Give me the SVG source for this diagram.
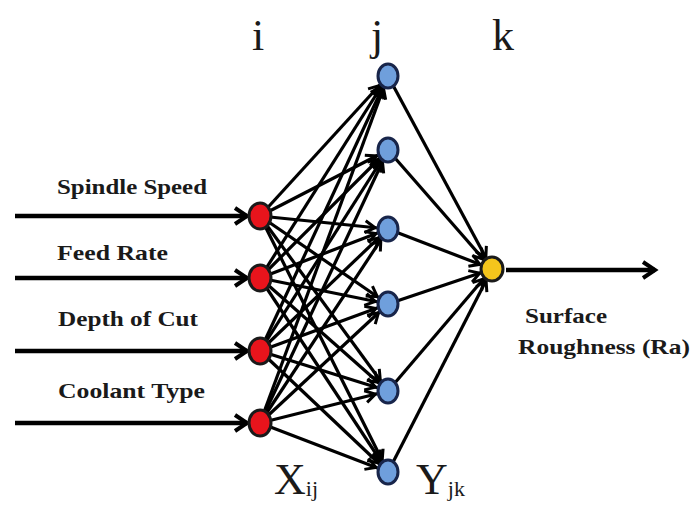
<svg xmlns="http://www.w3.org/2000/svg" width="691" height="507" viewBox="0 0 691 507">
<style>
.lbl{font-family:"Liberation Serif","Times New Roman",serif;font-weight:bold;font-size:22px;fill:#1a1a1a}
.idx{font-family:"Liberation Serif","Times New Roman",serif;font-size:44px;fill:#1a1a1a}
.big{font-family:"Liberation Serif","Times New Roman",serif;font-size:44px;fill:#1a1a1a}
.sub{font-size:22px}
.c{stroke:#000;stroke-width:3.2;fill:none;marker-end:url(#ah)}
.io{stroke:#000;stroke-width:4.5;fill:none;marker-end:url(#ah2)}
.in{fill:#e8141c;stroke:#1a1a1a;stroke-width:3}
.hid{fill:#6f9fdc;stroke:#18254a;stroke-width:3}
.out{fill:#f4c51c;stroke:#1a1a1a;stroke-width:3}
</style>
<defs>
<marker id="ah" markerUnits="userSpaceOnUse" markerWidth="30" markerHeight="20" viewBox="0 -8 30 16" refX="23" refY="0" orient="auto" overflow="visible">
<path d="M0,-6 L10,0 L0,6" fill="none" stroke="#000" stroke-width="3"/>
</marker>
<marker id="ah2" markerUnits="userSpaceOnUse" markerWidth="20" markerHeight="20" viewBox="0 -10 20 20" refX="12" refY="0" orient="auto" overflow="visible">
<path d="M0,-8 L12,0 L0,8" fill="none" stroke="#000" stroke-width="4"/>
</marker>
</defs>
<rect width="691" height="507" fill="#fff"/>
<g id="connectors">
<line class="io" x1="15" y1="216" x2="247" y2="216"/>
<line class="io" x1="15" y1="278" x2="247" y2="278"/>
<line class="io" x1="15" y1="351" x2="247" y2="351"/>
<line class="io" x1="15" y1="423" x2="247" y2="423"/>
<line class="io" x1="506" y1="270" x2="655" y2="270"/>
<line class="c" x1="260" y1="216" x2="388" y2="76"/>
<line class="c" x1="260" y1="216" x2="388" y2="150"/>
<line class="c" x1="260" y1="216" x2="388" y2="229"/>
<line class="c" x1="260" y1="216" x2="388" y2="304"/>
<line class="c" x1="260" y1="216" x2="388" y2="391"/>
<line class="c" x1="260" y1="216" x2="388" y2="472"/>
<line class="c" x1="260" y1="278" x2="388" y2="76"/>
<line class="c" x1="260" y1="278" x2="388" y2="150"/>
<line class="c" x1="260" y1="278" x2="388" y2="229"/>
<line class="c" x1="260" y1="278" x2="388" y2="304"/>
<line class="c" x1="260" y1="278" x2="388" y2="391"/>
<line class="c" x1="260" y1="278" x2="388" y2="472"/>
<line class="c" x1="260" y1="351" x2="388" y2="76"/>
<line class="c" x1="260" y1="351" x2="388" y2="150"/>
<line class="c" x1="260" y1="351" x2="388" y2="229"/>
<line class="c" x1="260" y1="351" x2="388" y2="304"/>
<line class="c" x1="260" y1="351" x2="388" y2="391"/>
<line class="c" x1="260" y1="351" x2="388" y2="472"/>
<line class="c" x1="260" y1="423" x2="388" y2="76"/>
<line class="c" x1="260" y1="423" x2="388" y2="150"/>
<line class="c" x1="260" y1="423" x2="388" y2="229"/>
<line class="c" x1="260" y1="423" x2="388" y2="304"/>
<line class="c" x1="260" y1="423" x2="388" y2="391"/>
<line class="c" x1="260" y1="423" x2="388" y2="472"/>
<line class="c" x1="388" y1="76" x2="492" y2="269"/>
<line class="c" x1="388" y1="150" x2="492" y2="269"/>
<line class="c" x1="388" y1="229" x2="492" y2="269"/>
<line class="c" x1="388" y1="304" x2="492" y2="269"/>
<line class="c" x1="388" y1="391" x2="492" y2="269"/>
<line class="c" x1="388" y1="472" x2="492" y2="269"/>
</g>
<g id="in1"><ellipse class="in" cx="260" cy="216" rx="11" ry="13"/><text class="lbl" x="57" y="194" textLength="150" lengthAdjust="spacingAndGlyphs">Spindle Speed</text></g>
<g id="in2"><ellipse class="in" cx="260" cy="278" rx="11" ry="13"/><text class="lbl" x="57" y="260" textLength="111" lengthAdjust="spacingAndGlyphs">Feed Rate</text></g>
<g id="in3"><ellipse class="in" cx="260" cy="351" rx="11" ry="13"/><text class="lbl" x="58" y="326" textLength="140" lengthAdjust="spacingAndGlyphs">Depth of Cut</text></g>
<g id="in4"><ellipse class="in" cx="260" cy="423" rx="11" ry="13"/><text class="lbl" x="58" y="398" textLength="147" lengthAdjust="spacingAndGlyphs">Coolant Type</text></g>
<g id="h1"><ellipse class="hid" cx="388" cy="76" rx="10" ry="12"/></g>
<g id="h2"><ellipse class="hid" cx="388" cy="150" rx="10" ry="12"/></g>
<g id="h3"><ellipse class="hid" cx="388" cy="229" rx="10" ry="12"/></g>
<g id="h4"><ellipse class="hid" cx="388" cy="304" rx="10" ry="12"/></g>
<g id="h5"><ellipse class="hid" cx="388" cy="391" rx="10" ry="12"/></g>
<g id="h6"><ellipse class="hid" cx="388" cy="472" rx="10" ry="12"/></g>
<g id="out"><ellipse class="out" cx="492" cy="269" rx="11" ry="12"/>
<text class="lbl" x="525" y="323" style="font-size:21px" textLength="82" lengthAdjust="spacingAndGlyphs">Surface</text>
<text class="lbl" x="518" y="354" style="font-size:21px" textLength="172" lengthAdjust="spacingAndGlyphs">Roughness (Ra)</text></g>
<g id="indices">
<text class="idx" x="252" y="50">i</text>
<text class="idx" x="371" y="50">j</text>
<text class="idx" x="492" y="50">k</text>
<text class="big" x="274" y="494">X<tspan class="sub" dy="2">ij</tspan></text>
<text class="big" x="416" y="494">Y<tspan class="sub" dy="2">jk</tspan></text>
</g>
</svg>
